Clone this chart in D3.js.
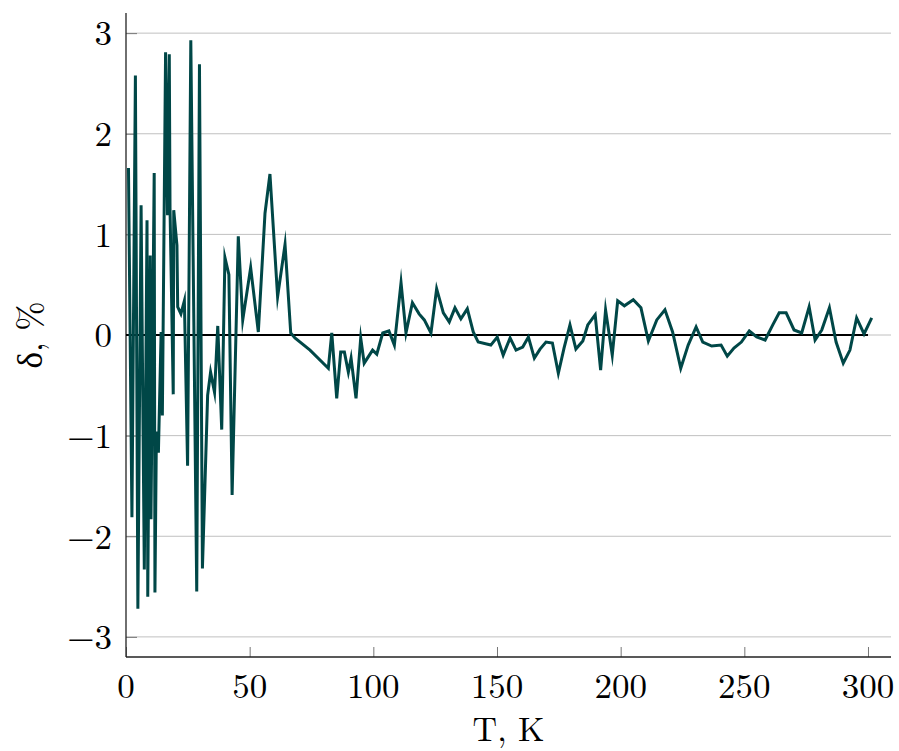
<!DOCTYPE html>
<html>
<head>
<meta charset="utf-8">
<script src="https://cdn.jsdelivr.net/npm/d3@7"></script>
<style>
  html, body { margin: 0; padding: 0; background: #fff; }
  svg text { font-family: "Latin Modern Roman", "CMU Serif", "Liberation Serif", "DejaVu Serif", serif; }
</style>
</head>
<body>
<svg id="chart" width="899" height="751"></svg>
<script>
// Data
const temperature = [1.0, 2.4, 3.8, 4.8, 6.1, 7.4, 8.5, 8.8, 9.8, 10.1, 11.4, 11.7, 12.3, 13.1, 14.2, 14.7,
  16.0, 16.8, 17.5, 17.8, 19.1, 19.3, 20.6, 20.9, 22.2, 23.6, 24.9, 26.2, 28.6, 29.7, 30.9, 33.0,
  34.2, 35.8, 37.1, 38.7, 40.0, 41.6, 42.9, 45.4, 47.2, 50.4, 53.5, 56.2, 58.2, 61.3, 64.3, 66.6,
  68.3, 74.4, 81.8, 83.2, 85.2, 86.8, 88.3, 89.9, 91.0, 93.0, 94.9, 96.3, 99.7, 101.4, 103.8, 106.3,
  108.5, 111.2, 113.2, 115.8, 118.5, 120.6, 123.3, 125.6, 128.3, 130.7, 133.0, 135.4, 138.0, 140.4,
  142.4, 147.5, 150.1, 152.5, 155.3, 157.7, 160.4, 162.7, 165.1, 167.4, 169.8, 172.4, 174.8, 177.1,
  179.5, 181.9, 184.7, 186.7, 189.7, 191.9, 193.9, 196.6, 198.8, 201.5, 205.1, 208.2, 211.2, 214.6,
  217.9, 221.0, 224.3, 227.3, 230.5, 233.2, 236.8, 240.6, 243.1, 245.8, 248.8, 252.0, 255.0, 258.4,
  261.5, 264.1, 266.9, 270.1, 273.2, 276.2, 278.6, 281.3, 284.4, 287.1, 290.0, 292.7, 295.4, 298.4, 301.5];
const delta = [1.66, -1.81, 2.58, -2.72, 1.29, -2.33, 1.14, -2.60, 0.79, -1.83, 1.61, -2.56, -0.96, -1.17, 0.03, -0.80,
  2.81, 1.19, 2.79, 1.26, -0.59, 1.24, 0.89, 0.28, 0.21, 0.34, -1.30, 2.93, -2.55, 2.69, -2.32, -0.60,
  -0.37, -0.57, 0.09, -0.94, 0.77, 0.60, -1.59, 0.98, 0.15, 0.67, 0.03, 1.21, 1.60, 0.38, 0.90, 0.02,
  -0.03, -0.15, -0.33, 0.02, -0.63, -0.17, -0.17, -0.37, -0.23, -0.63, -0.03, -0.28, -0.15, -0.19, 0.02, 0.04,
  -0.10, 0.52, 0.02, 0.32, 0.21, 0.15, 0.02, 0.46, 0.22, 0.13, 0.27, 0.16, 0.26, 0.03,
  -0.07, -0.10, -0.02, -0.20, -0.03, -0.15, -0.12, -0.02, -0.23, -0.14, -0.07, -0.08, -0.38, -0.13,
  0.10, -0.14, -0.06, 0.10, 0.20, -0.35, 0.25, -0.20, 0.34, 0.29, 0.35, 0.27, -0.06, 0.15,
  0.25, 0.03, -0.33, -0.10, 0.08, -0.07, -0.11, -0.10, -0.21, -0.13, -0.07, 0.04, -0.02, -0.05,
  0.10, 0.22, 0.22, 0.05, 0.02, 0.28, -0.05, 0.05, 0.27, -0.07, -0.28, -0.15, 0.17, 0.01, 0.17];
const zeroLine = [[0, 0], [300, 0]];
const xTicks = [0, 50, 100, 150, 200, 250, 300];
const yTicks = [-3, -2, -1, 0, 1, 2, 3];
const xDomain = [0, 309.3];
const yDomain = [-3.2, 3.2];
const xLabel = "T, K";
const yLabel = "δ, %";

const svg = d3.select("#chart");
const margin = { left: 126, right: 8, top: 13, bottom: 94 };
const W = 899, H = 751;
const x = d3.scaleLinear().domain(xDomain).range([margin.left, W - margin.right]);
const y = d3.scaleLinear().domain(yDomain).range([H - margin.bottom, margin.top]);

const fmt = d => (d < 0 ? "\u2212" + Math.abs(d) : String(d));

// Gridlines
svg.append("g")
  .selectAll("line")
  .data(yTicks)
  .join("line")
  .attr("x1", x(xDomain[0])).attr("x2", x(xDomain[1]))
  .attr("y1", d => y(d)).attr("y2", d => y(d))
  .attr("stroke", "#c0c0c0").attr("stroke-width", 1);

// Y axis (ticks inward)
const yAxis = svg.append("g")
  .attr("transform", `translate(${x(xDomain[0])},0)`)
  .call(d3.axisRight(y).tickValues(yTicks).tickSize(11).tickFormat(""));
yAxis.select(".domain").remove();
yAxis.selectAll(".tick line").attr("stroke", "#777").attr("stroke-width", 1);
svg.append("g").selectAll("text")
  .data(yTicks).join("text")
  .attr("x", x(xDomain[0]) - 14).attr("y", d => y(d))
  .attr("dy", "0.35em").attr("text-anchor", "end")
  .attr("font-size", 35).attr("fill", "#000")
  .text(fmt);

// X axis (ticks inward)
const xAxis = svg.append("g")
  .attr("transform", `translate(0,${y(yDomain[0])})`)
  .call(d3.axisTop(x).tickValues(xTicks).tickSize(10).tickFormat(""));
xAxis.select(".domain").remove();
xAxis.selectAll(".tick line").attr("stroke", "#777").attr("stroke-width", 1);
svg.append("g").selectAll("text")
  .data(xTicks).join("text")
  .attr("x", d => x(d)).attr("y", y(yDomain[0]) + 41)
  .attr("text-anchor", "middle")
  .attr("font-size", 35).attr("fill", "#000")
  .text(fmt);

// Axis lines
svg.append("line")
  .attr("x1", x(xDomain[0])).attr("x2", x(xDomain[0]))
  .attr("y1", y(yDomain[1])).attr("y2", y(yDomain[0]))
  .attr("stroke", "#222").attr("stroke-width", 1.3);
svg.append("line")
  .attr("x1", x(xDomain[0])).attr("x2", x(xDomain[1]))
  .attr("y1", y(yDomain[0])).attr("y2", y(yDomain[0]))
  .attr("stroke", "#222").attr("stroke-width", 1.3);

// Zero line
svg.append("path")
  .datum(zeroLine)
  .attr("d", d3.line().x(d => x(d[0])).y(d => y(d[1])))
  .attr("fill", "none").attr("stroke", "#000").attr("stroke-width", 2.2);

// Data line
const pts = temperature.map((t, i) => [t, delta[i]]);
svg.append("path")
  .datum(pts)
  .attr("d", d3.line().x(d => x(d[0])).y(d => y(d[1])))
  .attr("fill", "none").attr("stroke", "#004747")
  .attr("stroke-width", 3).attr("stroke-linejoin", "miter").attr("stroke-miterlimit", 10);

// Axis labels
svg.append("text")
  .attr("x", (x(xDomain[0]) + x(xDomain[1])) / 2).attr("y", 741)
  .attr("text-anchor", "middle").attr("font-size", 34).attr("fill", "#000")
  .text(xLabel);
svg.append("text")
  .attr("transform", `translate(42,${(y(yDomain[0]) + y(yDomain[1])) / 2}) rotate(-90)`)
  .attr("text-anchor", "middle").attr("font-size", 35).attr("fill", "#000")
  .text(yLabel);
</script>
</body>
</html>
